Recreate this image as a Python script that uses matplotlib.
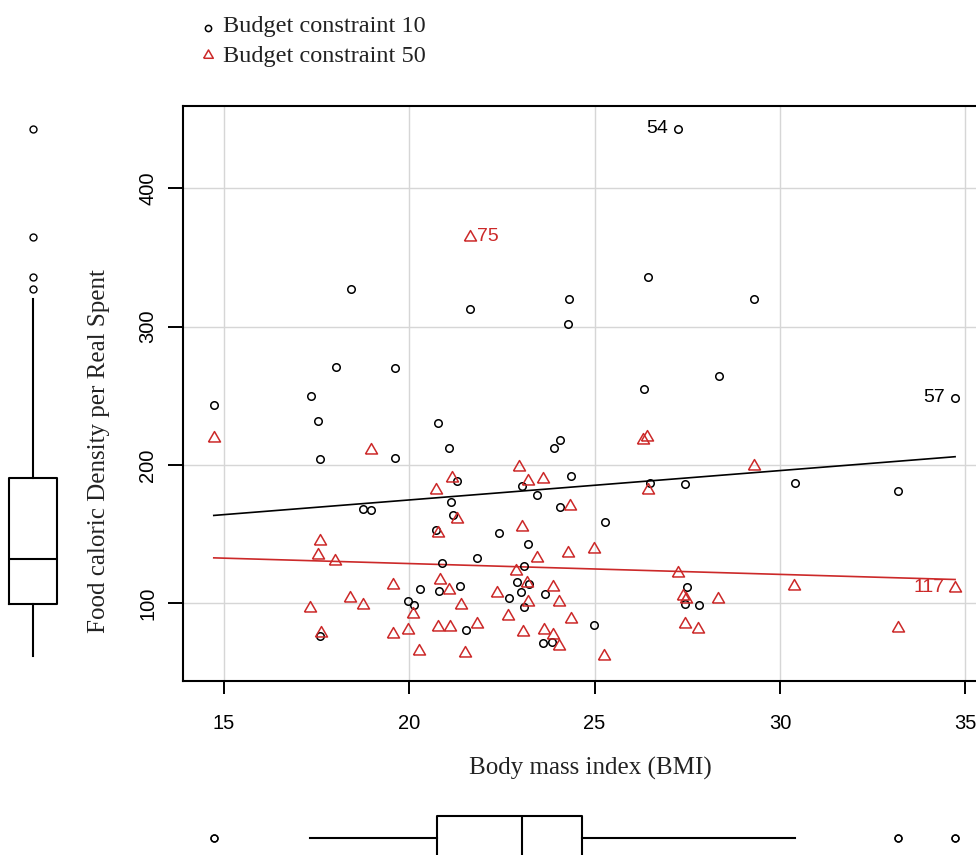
"""BMI vs food caloric density per real spent, two budget constraints (car::scatterplot style)."""

import numpy as np
import matplotlib
matplotlib.use("Agg")
import matplotlib.pyplot as plt
from matplotlib.lines import Line2D

SERIF = "Liberation Serif"
SANS = "Liberation Sans"

RED = "#CC2929"

# budget constraint 10 (circles)
BMI_10 = [18.42, 21.64, 24.31, 24.27, 18.02, 19.63, 27.25, 26.45, 29.31, 28.35,
          14.73, 17.34, 17.55, 20.78, 21.08, 24.07, 23.90, 17.59, 19.63, 21.29,
          23.05, 24.37, 23.45, 24.06, 18.76, 18.97, 21.13, 21.18, 20.73, 22.41,
          23.21, 21.82, 20.88, 23.10, 22.90, 23.23, 23.01, 22.70, 23.66, 20.28,
          20.79, 21.38, 19.97, 20.13, 23.10, 21.54, 17.59, 23.62, 23.86, 26.33,
          34.72, 26.49, 27.45, 30.39, 33.19, 25.28, 27.48, 27.45, 27.81, 24.99]
FCD_10 = [327.0, 313.0, 320.0, 302.0, 271.0, 270.0, 443.0, 335.5, 320.0, 264.5,
          243.0, 250.0, 232.0, 230.0, 212.0, 218.0, 212.0, 204.0, 205.0, 188.0,
          185.0, 192.0, 178.0, 169.5, 168.0, 167.0, 173.0, 163.5, 153.0, 150.5,
          143.0, 133.0, 129.0, 127.0, 115.0, 114.0, 108.0, 104.0, 106.5, 110.0,
          109.0, 112.5, 101.5, 99.0, 97.0, 80.5, 76.0, 71.0, 72.0, 254.5,
          248.5, 187.0, 186.0, 187.0, 181.0, 159.0, 111.5, 99.5, 98.5, 84.0]
# budget constraint 50 (triangles)
BMI_50 = [21.63, 14.73, 18.97, 22.97, 21.15, 23.21, 23.60, 20.72, 24.33, 21.30,
          23.05, 20.77, 17.59, 17.54, 18.00, 23.45, 24.27, 22.87, 19.56, 20.84,
          21.08, 22.36, 23.17, 23.87, 23.19, 24.04, 18.39, 18.76, 17.33, 21.39,
          20.10, 22.66, 24.35, 21.82, 19.56, 19.97, 20.77, 21.10, 23.06, 23.64,
          23.88, 17.61, 20.27, 21.51, 24.04, 25.26, 26.30, 26.42, 29.29, 26.45,
          24.97, 27.24, 30.37, 34.72, 27.39, 27.46, 28.33, 27.43, 27.79, 33.17]
FCD_50 = [365.0, 219.5, 211.0, 198.5, 190.5, 188.5, 190.0, 182.0, 170.5, 161.0,
          155.0, 150.5, 145.0, 135.0, 130.5, 133.0, 136.0, 123.0, 113.0, 117.0,
          109.5, 107.5, 114.5, 112.0, 100.5, 100.5, 104.0, 99.0, 96.5, 98.5,
          92.0, 91.0, 88.5, 85.0, 78.0, 80.5, 82.5, 82.5, 79.0, 80.5,
          77.0, 78.5, 65.5, 64.0, 69.0, 61.5, 218.0, 220.0, 199.5, 182.0,
          139.5, 121.5, 112.5, 111.0, 105.5, 103.0, 103.0, 85.0, 81.0, 82.0]

# observation ids shown next to points (index in the arrays above -> id)
IDS_10 = {6: "54", 50: "57"}
IDS_50 = {0: "75", 53: "117"}

SERIES = ["Budget constraint 10", "Budget constraint 50"]
X_TICKS = [15, 20, 25, 30, 35]
Y_TICKS = [100, 200, 300, 400]
XLIM = (13.9, 35.5)
YLIM = (43.7, 459.5)

W, H = 976, 855

# equilateral triangle like R pch=2
TRI = [(-1.0, -0.577), (1.0, -0.577), (0.0, 1.155), (-1.0, -0.577)]


def fx(px):
    return px / W


def fy(py):
    return 1 - py / H


def r_box_stats(values):
    """boxplot stats the way R does it (Tukey hinges via fivenum, range 1.5)"""
    x = np.sort(np.asarray(values, dtype=float))
    n = len(x)
    n4 = np.floor((n + 3) / 2) / 2
    d = np.array([1, n4, (n + 1) / 2, n + 1 - n4, n]) - 1
    five = 0.5 * (x[np.floor(d).astype(int)] + x[np.ceil(d).astype(int)])
    lo, med, hi = five[1], five[2], five[3]
    iqr = hi - lo
    inside = x[(x >= lo - 1.5 * iqr) & (x <= hi + 1.5 * iqr)]
    fliers = x[(x < lo - 1.5 * iqr) | (x > hi + 1.5 * iqr)]
    return dict(med=med, q1=lo, q3=hi, whislo=inside.min(), whishi=inside.max(),
                fliers=fliers)


def main() -> None:
    fig = plt.figure(figsize=(W / 100, H / 100), dpi=100)
    ax = fig.add_axes([fx(183), fy(681), 801 / W, 575 / H])

    ax.set_xlim(*XLIM)
    ax.set_ylim(*YLIM)
    ax.set_xticks(X_TICKS)
    ax.set_yticks(Y_TICKS)
    ax.grid(True, color="#d6d6d6", linewidth=1.0)
    ax.set_axisbelow(True)
    for s in ax.spines.values():
        s.set_linewidth(1.5)

    ax.tick_params(axis="x", direction="out", length=9, width=1.4, pad=15,
                   labelsize=14.5)
    ax.tick_params(axis="y", direction="out", length=10.5, width=1.4, pad=8,
                   labelsize=14.5, labelrotation=90)
    for lbl in ax.get_xticklabels() + ax.get_yticklabels():
        lbl.set_fontfamily(SANS)
    for lbl in ax.get_yticklabels():
        lbl.set_va("center")

    x10, y10 = np.array(BMI_10), np.array(FCD_10)
    x50, y50 = np.array(BMI_50), np.array(FCD_50)

    ax.plot(x10, y10, "o", ms=5.4, mfc="none", mec="black", mew=1.1, zorder=3)
    ax.plot(x50, y50, marker=TRI, ls="none", ms=10, mfc="none", mec=RED,
            mew=1.1, zorder=3)

    # least squares lines per group
    for xs, ys, c in [(x10, y10, "black"), (x50, y50, RED)]:
        b, a = np.polyfit(xs, ys, 1)
        xx = np.array([xs.min(), xs.max()])
        ax.plot(xx, a + b * xx, color=c, lw=1.2, zorder=2)

    # point ids
    for ids, xs, ys, c in [(IDS_10, x10, y10, "black"), (IDS_50, x50, y50, RED)]:
        for i, lab in ids.items():
            right = xs[i] < 25
            ax.annotate(lab, (xs[i], ys[i]), xytext=(5 if right else -7.5, 0),
                        textcoords="offset points", ha="left" if right else "right",
                        va="center", fontsize=14, family=SANS, color=c)

    fig.text(fx(99), fy(451), "Food caloric Density per Real Spent", rotation=90,
             ha="center", va="center", fontsize=18, family=SERIF, color="#222222")
    fig.text(fx(590), fy(768), "Body mass index (BMI)", ha="center", va="center",
             fontsize=18, family=SERIF, color="#222222")

    # legend at the top
    fig.add_artist(Line2D([fx(208)], [fy(28)], marker="o", ms=4.5, mfc="none",
                          mec="black", mew=1.1, transform=fig.transFigure))
    fig.add_artist(Line2D([fx(208)], [fy(55)], marker=TRI, ms=8, mfc="none",
                          mec=RED, mew=1.1, transform=fig.transFigure))
    fig.text(fx(223), fy(32), SERIES[0], ha="left", va="baseline",
             fontsize=17.5, family=SERIF, color="#222222")
    fig.text(fx(223), fy(62), SERIES[1], ha="left", va="baseline",
             fontsize=17.5, family=SERIF, color="#222222")

    all_x = np.concatenate([x10, x50])
    all_y = np.concatenate([y10, y50])
    box_kw = dict(showcaps=False, patch_artist=False,
                  boxprops=dict(color="black", lw=1.5),
                  whiskerprops=dict(color="black", lw=1.5),
                  medianprops=dict(color="black", lw=1.5),
                  flierprops=dict(marker="o", ms=5, mfc="none", mec="black", mew=1.0))

    # marginal boxplot of y (left)
    axl = fig.add_axes([0, fy(681), 66 / W, 575 / H])
    axl.bxp([r_box_stats(all_y)], positions=[1], widths=1.45, **box_kw)
    axl.set_xlim(0, 2)
    axl.set_ylim(*YLIM)
    axl.axis("off")

    # marginal boxplot of x (bottom)
    axb = fig.add_axes([fx(183), fy(876), 801 / W, 76 / H])
    axb.bxp([r_box_stats(all_x)], positions=[1], widths=1.16,
            orientation="horizontal", **box_kw)
    axb.set_xlim(*XLIM)
    axb.set_ylim(0, 2)
    axb.axis("off")

    fig.savefig("out.png", dpi=100)


if __name__ == "__main__":
    main()
